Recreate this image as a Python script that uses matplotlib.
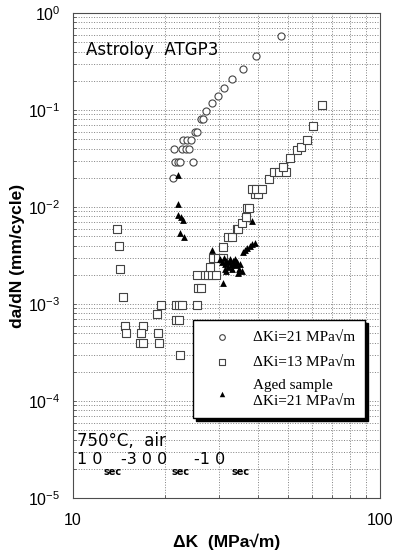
import matplotlib
matplotlib.use('Agg')
import matplotlib.pyplot as plt
from matplotlib.ticker import NullFormatter

# crack growth data: delta K (MPa sqrt m), da/dN (mm/cycle)
dk_21 = [21.2, 21.5, 21.9, 22.3, 24.6, 21.4, 22.6, 23.3, 23.9, 22.9, 23.5, 24.2,
         24.9, 25.3, 26.2, 26.5, 27.1, 28.4, 29.6, 31.0, 33.0, 35.9, 39.6, 47.6]
dadn_21 = [0.020, 0.029, 0.029, 0.029, 0.029, 0.040, 0.040, 0.040, 0.040, 0.049, 0.049, 0.049,
           0.059, 0.059, 0.080, 0.080, 0.098, 0.119, 0.139, 0.169, 0.207, 0.265, 0.36, 0.58]

dk_13 = [13.9, 14.1, 14.2, 14.5, 14.8, 16.9, 14.9, 16.6, 18.9, 16.5, 16.9, 19.0, 22.3,
         18.8, 19.4, 21.6, 22.2, 22.7, 25.3, 21.6, 22.1, 25.6, 26.2,
         25.3, 26.9, 27.6, 28.3, 29.3, 27.9, 28.6, 29.7, 30.9, 30.7, 32.0, 33.0,
         34.1, 34.5, 35.4, 36.6, 36.8, 37.5, 39.1, 40.1, 38.2, 39.6, 41.3, 43.6,
         45.1, 47.0, 49.4, 48.2, 50.9, 53.5, 55.4, 57.7, 60.4, 64.5]
dadn_13 = [0.0060, 0.0040, 0.00228, 0.00119, 0.00059, 0.00059, 0.00050, 0.00050, 0.00050,
           0.00040, 0.00040, 0.00040, 0.00030,
           0.00078, 0.00098, 0.00098, 0.00098, 0.00098, 0.00098, 0.00068, 0.00068, 0.00145, 0.00145,
           0.00199, 0.00199, 0.00199, 0.00199, 0.00199, 0.00243, 0.00296, 0.00296, 0.00296,
           0.0039, 0.0049, 0.0049, 0.0059, 0.0059, 0.0069, 0.0078, 0.0097, 0.0097,
           0.0136, 0.0136, 0.0155, 0.0155, 0.0155, 0.0194, 0.0231, 0.0231, 0.0228,
           0.026, 0.032, 0.039, 0.042, 0.049, 0.068, 0.112]

dk_aged = [22.0, 22.0, 22.0, 22.4, 22.8, 22.3, 23.0, 28.3, 30.9, 38.2,
           30.2, 30.6, 31.0, 31.3, 31.6, 31.9, 32.2, 32.5, 32.8, 33.1, 33.4, 33.7,
           34.0, 34.3, 34.7, 35.0, 35.4, 34.5, 31.3, 31.6, 33.0,
           35.8, 36.4, 37.0, 37.6, 38.3, 39.3]
dadn_aged = [0.0214, 0.0107, 0.0083, 0.0079, 0.0073, 0.0054, 0.0049, 0.0036, 0.00165, 0.0072,
             0.0029, 0.0027, 0.0030, 0.0026, 0.0028, 0.0024, 0.0027, 0.0029, 0.0025, 0.0028, 0.0026, 0.0029,
             0.0025, 0.0027, 0.0023, 0.0026, 0.0022, 0.0021, 0.0023, 0.0022, 0.0023,
             0.0034, 0.0036, 0.0038, 0.0040, 0.0042, 0.0043]

plt.rcParams['font.family'] = ['Liberation Sans', 'DejaVu Sans']

fig = plt.figure(figsize=(3.94, 5.57), dpi=100)
ax = fig.add_axes([73 / 394, 1 - 498 / 557, 307 / 394, 485 / 557])

ax.scatter(dk_21, dadn_21, s=26, marker='o', facecolors='white', edgecolors='#444444',
           linewidths=0.8, label='ΔKi=21 MPa√m', zorder=3)
ax.scatter(dk_13, dadn_13, s=28, marker='s', facecolors='white', edgecolors='#444444',
           linewidths=0.8, label='ΔKi=13 MPa√m', zorder=3)
ax.scatter(dk_aged, dadn_aged, s=24, marker='^', color='black', linewidths=0,
           label='Aged sample\nΔKi=21 MPa√m', zorder=4)

ax.set_xscale('log')
ax.set_yscale('log')
ax.set_xlim(10, 100)
ax.set_ylim(1e-5, 1)

ax.grid(True, which='both', linestyle=':', color='0.5', linewidth=0.7)
ax.set_axisbelow(True)
for s in ax.spines.values():
    s.set_linewidth(0.8)
    s.set_color('0.3')

ax.tick_params(which='both', direction='in', length=2, width=0.6, colors='0.3',
               labelcolor='black', labelsize=11.5)
ax.tick_params(axis='x', pad=11)
ax.tick_params(axis='y', pad=9)
ax.set_xticks([10, 100])
ax.set_xticklabels(['10', '100'])
ax.xaxis.set_minor_formatter(NullFormatter())
ax.yaxis.set_minor_formatter(NullFormatter())

ax.set_xlabel('ΔK  (MPa√m)', fontsize=12.5, fontweight='bold', labelpad=4)
ax.set_ylabel('da/dN (mm/cycle)', fontsize=12.5, fontweight='bold', labelpad=2)

big = dict(family=['DejaVu Sans'], fontsize=12, va='center')
fig.text(86 / 394, 1 - 50 / 557, 'Astroloy  ATGP3', **big)
fig.text(77 / 394, 1 - 441 / 557, '750°C,  air', **big)
txt = dict(family=['DejaVu Sans'], fontsize=11.5, va='center')
fig.text(77 / 394, 1 - 459 / 557, '1 0', **txt)
fig.text(121 / 394, 1 - 459 / 557, '-3 0 0', **txt)
fig.text(194 / 394, 1 - 459 / 557, '-1 0', **txt)
sub = dict(family=['DejaVu Sans'], fontsize=7, va='center', fontweight='bold')
fig.text(103 / 394, 1 - 472 / 557, 'sec', **sub)
fig.text(172 / 394, 1 - 472 / 557, 'sec', **sub)
fig.text(231 / 394, 1 - 472 / 557, 'sec', **sub)

leg = ax.legend(loc='upper left', bbox_to_anchor=(193 / 394, 1 - 320 / 557),
                bbox_transform=fig.transFigure, borderaxespad=0,
                prop={'family': 'Liberation Serif', 'size': 11},
                frameon=True, fancybox=False, shadow={'color': 'black', 'alpha': 1},
                borderpad=0.7, labelspacing=0.7, handletextpad=0.8, handlelength=2.4,
                markerscale=0.8)
leg.get_frame().set_edgecolor('black')
leg.get_frame().set_linewidth(1.0)

fig.savefig('out.png', dpi=100)
